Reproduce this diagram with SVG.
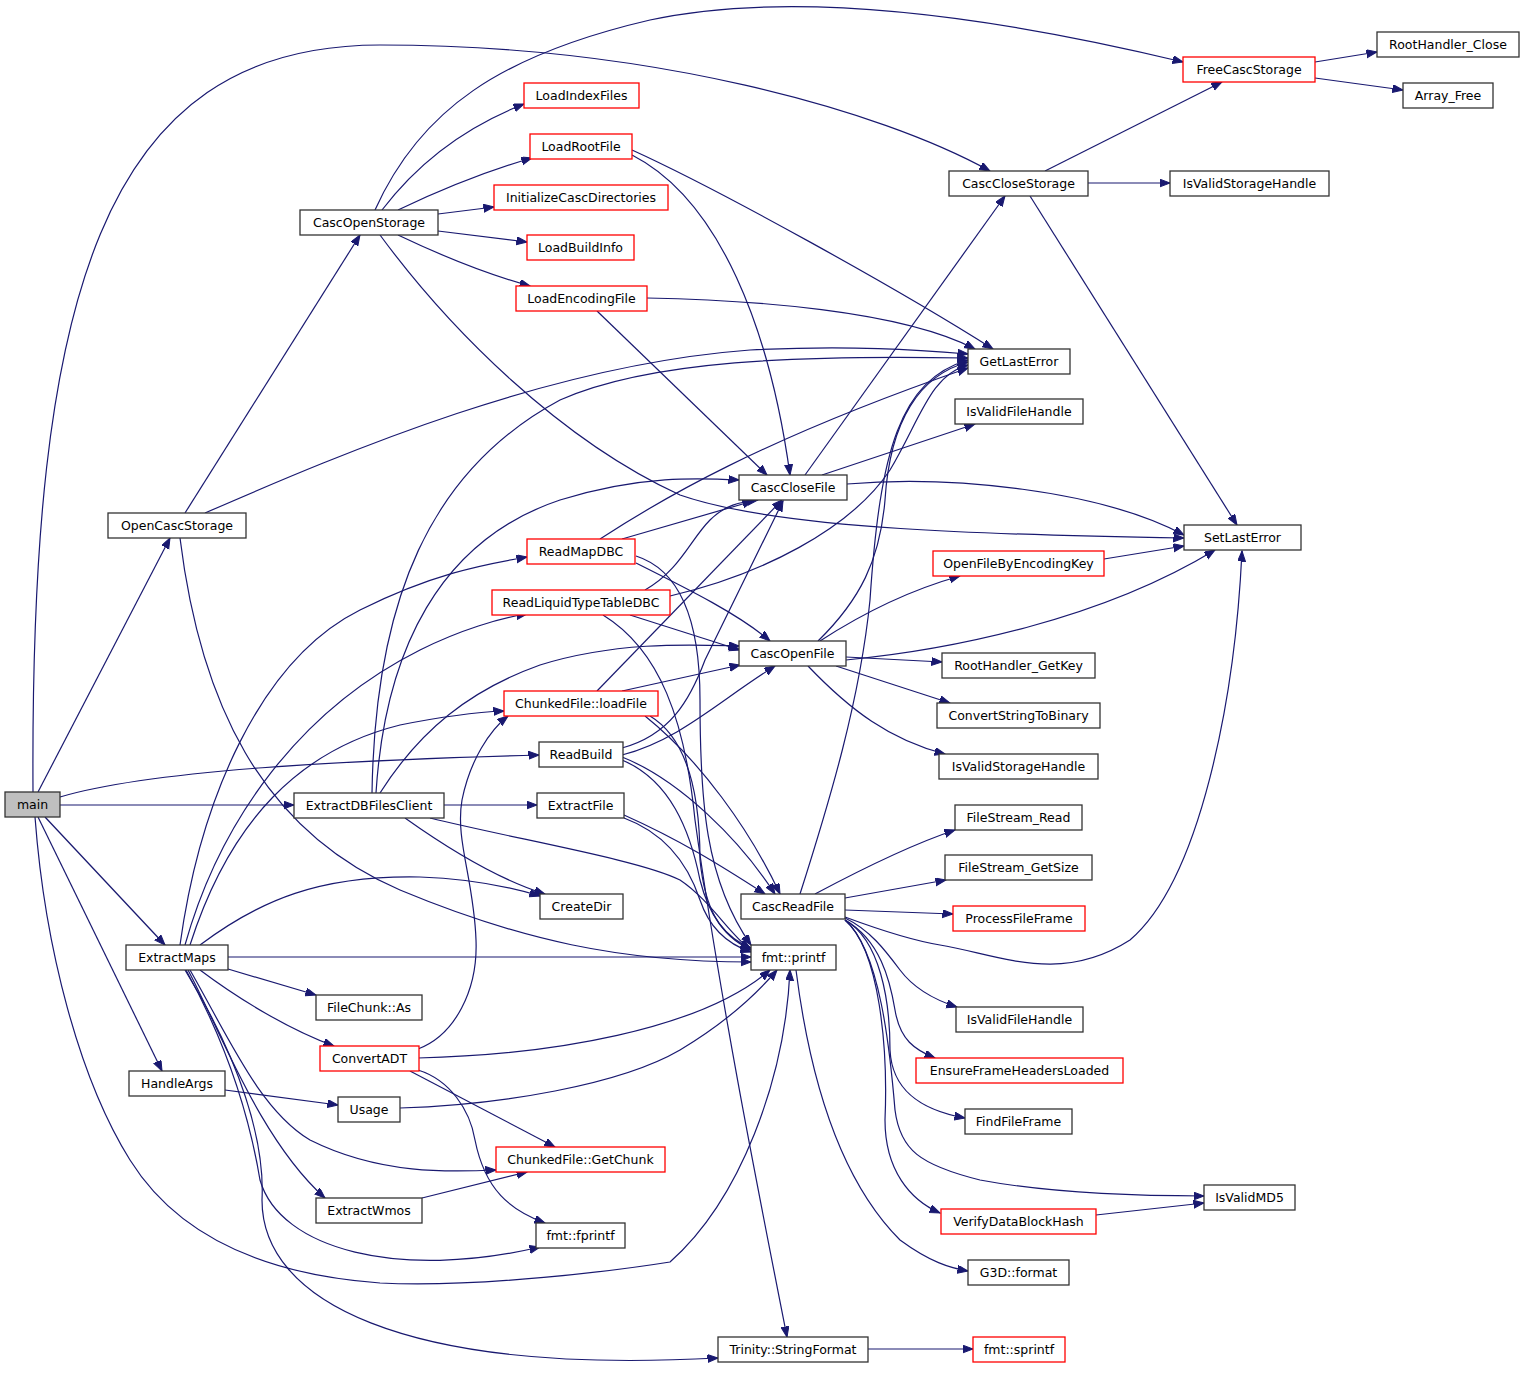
<svg xmlns="http://www.w3.org/2000/svg" width="1525" height="1375" viewBox="0 0 1525 1375">
<style>
.e{fill:none;stroke:#191970;stroke-width:1.2;marker-end:url(#a)}
.n rect{fill:#fff;stroke:#333;stroke-width:1.3}
.r rect{stroke:#ff0000}
.n text{font-family:"DejaVu Sans",sans-serif;font-size:12.5px;text-anchor:middle;fill:#000}
</style>
<defs>
<marker id="a" markerUnits="userSpaceOnUse" markerWidth="12" markerHeight="9" refX="10.5" refY="4" orient="auto"><path d="M0,0 L10.5,4 L0,8 z" fill="#191970" stroke="#191970"/></marker>
</defs>
<rect width="1525" height="1375" fill="#fff"/>
<g id="edges">
<path class="e" d="M33,792 C30,300 100,45 380,45 C650,45 880,110 990,171"/>
<path class="e" d="M375,210 C420,110 500,55 650,20 C800,-12 1000,18 1183,62"/>
<path class="e" d="M38,792 L170,538"/>
<path class="e" d="M60,797 C150,770 350,760 539,755"/>
<path class="e" d="M60,805 L294,805"/>
<path class="e" d="M45,817 L165,945"/>
<path class="e" d="M38,817 L162,1071"/>
<path class="e" d="M35,817 C45,950 80,1080 130,1160 C180,1240 270,1275 380,1283 C480,1288 620,1270 670,1262 C740,1200 785,1080 790,970"/>
<path class="e" d="M185,513 L360,235"/>
<path class="e" d="M205,513 C350,450 550,365 750,350 C850,345 920,350 968,354"/>
<path class="e" d="M180,538 C200,700 260,830 400,890 C520,940 620,962 751,962"/>
<path class="e" d="M382,210 C420,160 470,125 524,104"/>
<path class="e" d="M398,210 C440,190 490,170 532,158"/>
<path class="e" d="M438,214 L494,207"/>
<path class="e" d="M438,231 L527,242"/>
<path class="e" d="M398,235 C440,255 490,275 530,286"/>
<path class="e" d="M380,235 C450,330 560,440 680,495 C780,530 1000,535 1184,538"/>
<path class="e" d="M632,150 C720,190 900,290 993,349"/>
<path class="e" d="M647,298 C750,300 900,310 975,349"/>
<path class="e" d="M632,155 C720,200 770,330 790,475"/>
<path class="e" d="M597,311 L767,475"/>
<path class="e" d="M372,793 C375,600 430,470 560,400 C650,360 800,355 968,358"/>
<path class="e" d="M376,793 C385,650 440,540 560,500 C640,475 700,478 739,480"/>
<path class="e" d="M380,793 C420,730 470,690 540,665 C620,640 700,645 739,646"/>
<path class="e" d="M444,805 L537,805"/>
<path class="e" d="M405,818 C450,850 500,880 545,894"/>
<path class="e" d="M430,818 C520,840 640,860 680,880 C710,900 730,935 751,950"/>
<path class="e" d="M180,945 C200,800 260,660 360,610 C430,575 480,565 527,557"/>
<path class="e" d="M185,945 C220,820 300,710 420,650 C460,630 500,618 527,614"/>
<path class="e" d="M190,945 C230,820 300,750 400,725 C450,715 480,712 504,711"/>
<path class="e" d="M200,945 C260,900 320,875 420,877 C480,879 520,890 540,896"/>
<path class="e" d="M228,957 L751,957"/>
<path class="e" d="M228,969 L316,995"/>
<path class="e" d="M200,970 C240,1000 290,1030 334,1046"/>
<path class="e" d="M190,970 C230,1040 260,1110 310,1140 C380,1175 450,1172 496,1170"/>
<path class="e" d="M188,970 C220,1030 260,1140 325,1198"/>
<path class="e" d="M186,970 C230,1050 250,1120 260,1180 C280,1250 400,1280 540,1247"/>
<path class="e" d="M185,970 C240,1060 265,1140 262,1200 C262,1300 400,1375 718,1358"/>
<path class="e" d="M225,1090 L338,1105"/>
<path class="e" d="M418,1049 C455,1035 478,990 476,940 C474,880 455,840 462,800 C470,760 490,730 508,716"/>
<path class="e" d="M418,1058 C550,1055 700,1030 770,970"/>
<path class="e" d="M410,1071 L555,1147"/>
<path class="e" d="M418,1070 C450,1080 470,1110 475,1140 C485,1190 510,1210 545,1223"/>
<path class="e" d="M400,1108 C500,1105 620,1085 680,1050 C730,1020 760,990 777,970"/>
<path class="e" d="M422,1198 L527,1172"/>
<path class="e" d="M622,539 L753,501"/>
<path class="e" d="M600,539 C660,500 760,440 968,368"/>
<path class="e" d="M636,563 C690,590 740,615 770,641"/>
<path class="e" d="M636,556 C680,570 700,620 700,700 C700,800 705,880 751,945"/>
<path class="e" d="M645,590 C680,570 690,540 710,520 C725,505 740,502 758,500"/>
<path class="e" d="M670,596 C760,575 850,530 890,470 C920,420 930,375 968,365"/>
<path class="e" d="M630,615 L740,650"/>
<path class="e" d="M603,615 C660,650 685,720 695,820 C720,1000 760,1200 787,1337"/>
<path class="e" d="M597,691 L782,500"/>
<path class="e" d="M622,691 L740,665"/>
<path class="e" d="M645,716 C700,760 750,830 780,894"/>
<path class="e" d="M650,716 C690,740 700,800 700,860 C705,910 720,935 751,950"/>
<path class="e" d="M622,748 C670,735 690,700 705,660 L783,501"/>
<path class="e" d="M622,755 C680,740 720,700 775,666"/>
<path class="e" d="M622,757 C680,780 740,840 775,894"/>
<path class="e" d="M622,760 C670,780 690,830 700,880 C710,920 730,940 751,948"/>
<path class="e" d="M624,815 C680,840 720,865 765,894"/>
<path class="e" d="M624,818 C670,835 690,870 700,900 C710,930 730,945 751,952"/>
<path class="e" d="M805,475 L1005,196"/>
<path class="e" d="M822,475 L975,424"/>
<path class="e" d="M847,484 C950,475 1100,490 1184,535"/>
<path class="e" d="M818,641 C860,600 880,560 885,500 C890,420 920,375 968,362"/>
<path class="e" d="M820,641 C860,615 910,590 960,576"/>
<path class="e" d="M846,660 C950,650 1100,620 1215,550"/>
<path class="e" d="M846,657 L942,662"/>
<path class="e" d="M836,666 L950,703"/>
<path class="e" d="M808,666 C850,710 890,740 945,754"/>
<path class="e" d="M800,894 C830,800 860,700 870,600 C880,450 900,380 968,360"/>
<path class="e" d="M815,894 C860,870 910,845 955,830"/>
<path class="e" d="M845,898 L946,880"/>
<path class="e" d="M845,910 L953,914"/>
<path class="e" d="M845,917 C880,930 910,940 940,945 C1000,955 1060,985 1130,940 C1200,880 1235,700 1242,551"/>
<path class="e" d="M845,918 C870,930 885,950 900,970 C915,990 935,1000 957,1007"/>
<path class="e" d="M845,920 C880,940 890,980 895,1010 C900,1040 915,1050 935,1058"/>
<path class="e" d="M845,920 C880,940 890,1000 890,1050 C892,1090 920,1110 965,1118"/>
<path class="e" d="M845,920 C880,950 888,1050 885,1120 C885,1170 910,1200 940,1213"/>
<path class="e" d="M845,920 C880,950 890,1050 895,1110 C900,1150 920,1165 980,1180 C1060,1195 1150,1196 1204,1196"/>
<path class="e" d="M796,970 C810,1080 840,1180 900,1240 C930,1262 950,1268 968,1271"/>
<path class="e" d="M868,1349 L973,1349"/>
<path class="e" d="M1045,171 L1222,82"/>
<path class="e" d="M1088,183 L1170,183"/>
<path class="e" d="M1030,196 L1237,525"/>
<path class="e" d="M1315,62 L1377,52"/>
<path class="e" d="M1315,78 L1403,90"/>
<path class="e" d="M1104,559 L1184,546"/>
<path class="e" d="M1096,1215 L1204,1203"/>
</g>
<g id="main" class="n"><rect x="5" y="792" width="55" height="25" style="fill:#bfbfbf"/><text x="32.5" y="809">main</text></g>
<g id="OpenCascStorage" class="n"><rect x="108" y="513" width="138" height="25"/><text x="177" y="530">OpenCascStorage</text></g>
<g id="CascOpenStorage" class="n"><rect x="300" y="210" width="138" height="25"/><text x="369" y="227">CascOpenStorage</text></g>
<g id="LoadIndexFiles" class="n r"><rect x="524" y="83" width="115" height="25"/><text x="581.5" y="100">LoadIndexFiles</text></g>
<g id="LoadRootFile" class="n r"><rect x="530" y="134" width="102" height="25"/><text x="581" y="151">LoadRootFile</text></g>
<g id="InitializeCascDirectories" class="n r"><rect x="494" y="185" width="174" height="25"/><text x="581" y="202">InitializeCascDirectories</text></g>
<g id="LoadBuildInfo" class="n r"><rect x="527" y="235" width="107" height="25"/><text x="580.5" y="252">LoadBuildInfo</text></g>
<g id="LoadEncodingFile" class="n r"><rect x="516" y="286" width="131" height="25"/><text x="581.5" y="303">LoadEncodingFile</text></g>
<g id="ExtractDBFilesClient" class="n"><rect x="294" y="793" width="150" height="25"/><text x="369" y="810">ExtractDBFilesClient</text></g>
<g id="ReadMapDBC" class="n r"><rect x="527" y="539" width="108" height="25"/><text x="581" y="556">ReadMapDBC</text></g>
<g id="ReadLiquidTypeTableDBC" class="n r"><rect x="492" y="590" width="178" height="25"/><text x="581" y="607">ReadLiquidTypeTableDBC</text></g>
<g id="ChunkedFile_loadFile" class="n r"><rect x="504" y="691" width="154" height="25"/><text x="581" y="708">ChunkedFile::loadFile</text></g>
<g id="ReadBuild" class="n"><rect x="539" y="742" width="84" height="25"/><text x="581" y="759">ReadBuild</text></g>
<g id="ExtractFile" class="n"><rect x="537" y="793" width="87" height="25"/><text x="580.5" y="810">ExtractFile</text></g>
<g id="CreateDir" class="n"><rect x="540" y="894" width="83" height="25"/><text x="581.5" y="911">CreateDir</text></g>
<g id="ExtractMaps" class="n"><rect x="126" y="945" width="102" height="25"/><text x="177" y="962">ExtractMaps</text></g>
<g id="FileChunk_As" class="n"><rect x="316" y="995" width="106" height="25"/><text x="369" y="1012">FileChunk::As</text></g>
<g id="ConvertADT" class="n r"><rect x="320" y="1046" width="99" height="25"/><text x="369.5" y="1063">ConvertADT</text></g>
<g id="HandleArgs" class="n"><rect x="129" y="1071" width="96" height="25"/><text x="177" y="1088">HandleArgs</text></g>
<g id="Usage" class="n"><rect x="338" y="1097" width="62" height="25"/><text x="369" y="1114">Usage</text></g>
<g id="ChunkedFile_GetChunk" class="n r"><rect x="496" y="1147" width="169" height="25"/><text x="580.5" y="1164">ChunkedFile::GetChunk</text></g>
<g id="ExtractWmos" class="n"><rect x="316" y="1198" width="106" height="25"/><text x="369" y="1215">ExtractWmos</text></g>
<g id="fmt_fprintf" class="n"><rect x="536" y="1223" width="89" height="25"/><text x="580.5" y="1240">fmt::fprintf</text></g>
<g id="Trinity_StringFormat" class="n"><rect x="718" y="1337" width="150" height="25"/><text x="793" y="1354">Trinity::StringFormat</text></g>
<g id="fmt_sprintf" class="n r"><rect x="973" y="1337" width="92" height="25"/><text x="1019" y="1354">fmt::sprintf</text></g>
<g id="CascCloseFile" class="n"><rect x="739" y="475" width="108" height="25"/><text x="793" y="492">CascCloseFile</text></g>
<g id="CascOpenFile" class="n"><rect x="739" y="641" width="107" height="25"/><text x="792.5" y="658">CascOpenFile</text></g>
<g id="CascReadFile" class="n"><rect x="741" y="894" width="104" height="25"/><text x="793" y="911">CascReadFile</text></g>
<g id="fmt_printf" class="n"><rect x="751" y="945" width="85" height="25"/><text x="793.5" y="962">fmt::printf</text></g>
<g id="CascCloseStorage" class="n"><rect x="949" y="171" width="139" height="25"/><text x="1018.5" y="188">CascCloseStorage</text></g>
<g id="GetLastError" class="n"><rect x="968" y="349" width="102" height="25"/><text x="1019" y="366">GetLastError</text></g>
<g id="IsValidFileHandle1" class="n"><rect x="955" y="399" width="128" height="25"/><text x="1019" y="416">IsValidFileHandle</text></g>
<g id="OpenFileByEncodingKey" class="n r"><rect x="933" y="551" width="171" height="25"/><text x="1018.5" y="568">OpenFileByEncodingKey</text></g>
<g id="RootHandler_GetKey" class="n"><rect x="942" y="653" width="153" height="25"/><text x="1018.5" y="670">RootHandler_GetKey</text></g>
<g id="ConvertStringToBinary" class="n"><rect x="937" y="703" width="163" height="25"/><text x="1018.5" y="720">ConvertStringToBinary</text></g>
<g id="IsValidStorageHandle2" class="n"><rect x="939" y="754" width="159" height="25"/><text x="1018.5" y="771">IsValidStorageHandle</text></g>
<g id="FileStream_Read" class="n"><rect x="955" y="805" width="127" height="25"/><text x="1018.5" y="822">FileStream_Read</text></g>
<g id="FileStream_GetSize" class="n"><rect x="945" y="855" width="147" height="25"/><text x="1018.5" y="872">FileStream_GetSize</text></g>
<g id="ProcessFileFrame" class="n r"><rect x="953" y="906" width="132" height="25"/><text x="1019" y="923">ProcessFileFrame</text></g>
<g id="IsValidFileHandle3" class="n"><rect x="956" y="1007" width="127" height="25"/><text x="1019.5" y="1024">IsValidFileHandle</text></g>
<g id="EnsureFrameHeadersLoaded" class="n r"><rect x="916" y="1058" width="207" height="25"/><text x="1019.5" y="1075">EnsureFrameHeadersLoaded</text></g>
<g id="FindFileFrame" class="n"><rect x="965" y="1109" width="107" height="25"/><text x="1018.5" y="1126">FindFileFrame</text></g>
<g id="VerifyDataBlockHash" class="n r"><rect x="941" y="1209" width="155" height="25"/><text x="1018.5" y="1226">VerifyDataBlockHash</text></g>
<g id="G3D_format" class="n"><rect x="968" y="1260" width="101" height="25"/><text x="1018.5" y="1277">G3D::format</text></g>
<g id="IsValidMD5" class="n"><rect x="1204" y="1185" width="91" height="25"/><text x="1249.5" y="1202">IsValidMD5</text></g>
<g id="SetLastError" class="n"><rect x="1184" y="525" width="117" height="25"/><text x="1242.5" y="542">SetLastError</text></g>
<g id="IsValidStorageHandle1" class="n"><rect x="1170" y="171" width="159" height="25"/><text x="1249.5" y="188">IsValidStorageHandle</text></g>
<g id="FreeCascStorage" class="n r"><rect x="1183" y="57" width="132" height="25"/><text x="1249" y="74">FreeCascStorage</text></g>
<g id="RootHandler_Close" class="n"><rect x="1377" y="32" width="142" height="25"/><text x="1448" y="49">RootHandler_Close</text></g>
<g id="Array_Free" class="n"><rect x="1403" y="83" width="90" height="25"/><text x="1448" y="100">Array_Free</text></g>
</svg>
